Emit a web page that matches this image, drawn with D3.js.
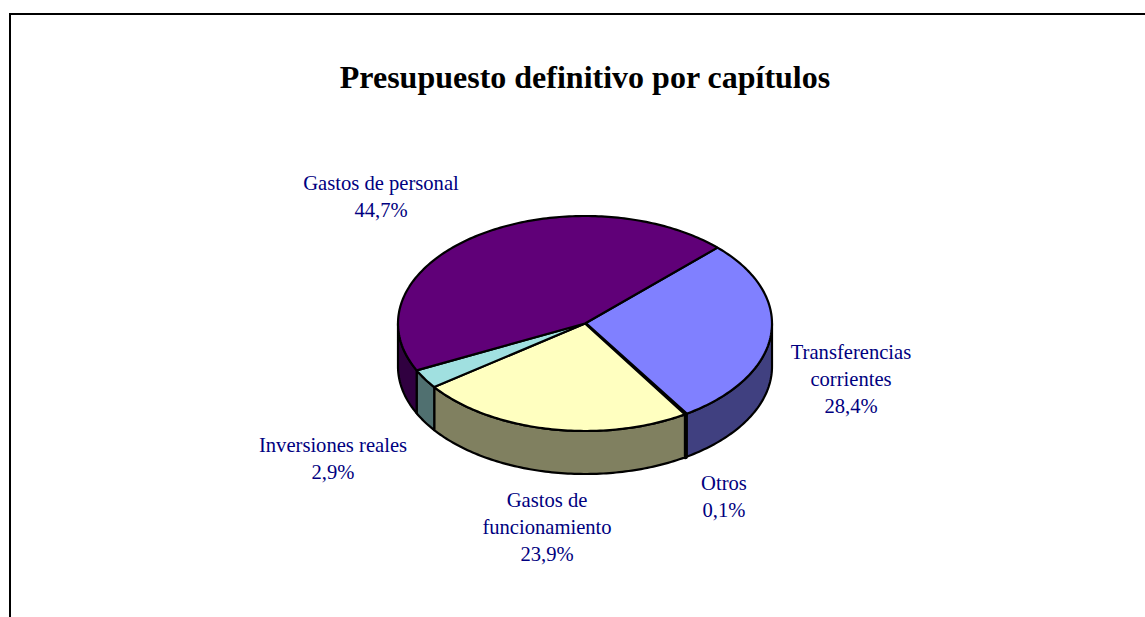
<!DOCTYPE html>
<html lang="es">
<head>
<meta charset="utf-8">
<title>Presupuesto definitivo por capítulos</title>
<script src="https://cdn.jsdelivr.net/npm/d3@7"></script>
<style>
html,body{margin:0;padding:0;background:#fff;overflow:hidden}
svg{display:block}
text{font-family:"Liberation Serif","Times New Roman",serif}
</style>
</head>
<body>
<script>
const chartTitle = "Presupuesto definitivo por capítulos";
const categories = ["Transferencias corrientes", "Otros", "Gastos de funcionamiento", "Inversiones reales", "Gastos de personal"];
const values = [28.4, 0.1, 23.9, 2.9, 44.7];
const labelLines = [["Transferencias", "corrientes"], ["Otros"], ["Gastos de", "funcionamiento"], ["Inversiones reales"], ["Gastos de personal"]];

const topColors = ["#8080ff", "#000000", "#ffffc0", "#a0e0e0", "#600078"];
const sideColors = ["#404080", "#000000", "#808060", "#507070", "#300040"];
const labelAnchors = [[851, 359], [724, 490], [547, 507], [333, 452], [381, 190]];
const outlineWidths = [2.2, 4, 2.2, 2.2, 2.2];

const W = 1145, H = 617;
const cx = 585, cy = 323.5, rx = 187, ry = 107.5, depth = 43;
const startDeg = 45.1;
const rad = d => d * Math.PI / 180;

const svg = d3.select("body").append("svg").attr("width", W).attr("height", H);
svg.append("rect").attr("width", W).attr("height", H).attr("fill", "#fff");

// chart frame: open at the right and bottom, as cropped in the reference
svg.append("path")
  .attr("d", d3.line()([[10, H], [10, 14], [W, 14]]))
  .attr("fill", "none").attr("stroke", "#000").attr("stroke-width", 2);

svg.append("text").attr("x", 585).attr("y", 88).attr("text-anchor", "middle")
  .attr("font-size", 32).attr("font-weight", "bold").attr("fill", "#000").text(chartTitle);

const pie = d3.pie().sort(null).startAngle(rad(startDeg)).endAngle(rad(startDeg) + 2 * Math.PI);
const arcs = pie(values);

const px = a => cx + rx * Math.sin(a);
const py = (a, h = 0) => cy - ry * Math.cos(a) + h;
const line = d3.line();
const sample = (a0, a1) => {
  const n = Math.max(2, Math.ceil(Math.abs(a1 - a0) / rad(1)));
  return d3.range(n + 1).map(i => a0 + (a1 - a0) * i / n);
};

// side walls: only the part of each slice facing the viewer (90deg to 270deg, also shifted by a full turn)
const sideG = svg.append("g");
arcs.forEach((d, i) => {
  [0, 2 * Math.PI].forEach(shift => {
    const a0 = Math.max(d.startAngle, rad(90) + shift);
    const a1 = Math.min(d.endAngle, rad(270) + shift);
    if (a1 <= a0) return;
    const as = sample(a0, a1);
    const pts = as.map(a => [px(a), py(a)])
      .concat(as.slice().reverse().map(a => [px(a), py(a, depth)]));
    sideG.append("path").attr("d", line(pts) + "Z")
      .attr("fill", sideColors[i]).attr("stroke", "#000").attr("stroke-width", outlineWidths[i])
      .attr("stroke-linejoin", "round");
  });
});

// top faces
const topG = svg.append("g");
arcs.forEach((d, i) => {
  const pts = [[cx, cy]].concat(sample(d.startAngle, d.endAngle).map(a => [px(a), py(a)]));
  topG.append("path").attr("d", line(pts) + "Z")
    .attr("fill", topColors[i]).attr("stroke", "#000").attr("stroke-width", outlineWidths[i])
    .attr("stroke-linejoin", "round");
});

// labels
const lh = 27;
const pct = v => v.toFixed(1).replace(".", ",") + "%";
const labelG = svg.append("g").attr("fill", "#000080").attr("font-size", 20.6).attr("text-anchor", "middle");
values.forEach((v, i) => {
  const [x, y] = labelAnchors[i];
  labelLines[i].concat([pct(v)]).forEach((t, k) => {
    labelG.append("text").attr("x", x).attr("y", y + k * lh).text(t);
  });
});
</script>
</body>
</html>
